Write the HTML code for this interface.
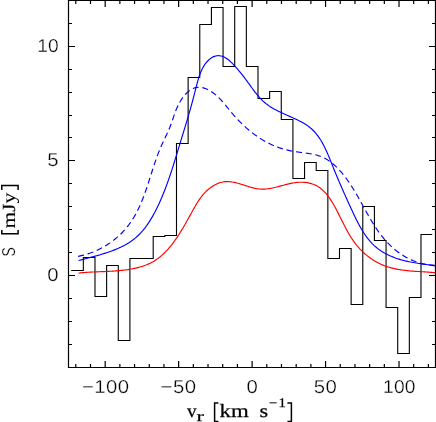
<!DOCTYPE html>
<html><head><meta charset="utf-8"><title>spectrum</title>
<style>
html,body{margin:0;padding:0;background:#fff;}
body{width:436px;height:422px;overflow:hidden;font-family:"Liberation Sans",sans-serif;}
svg{display:block;}
text{fill:#000;text-rendering:geometricPrecision;}
</style></head>
<body>
<svg width="436" height="422" viewBox="0 0 436 422">
<rect x="0" y="0" width="436" height="422" fill="#fff"/>
<path d="M71.20 270.5H83.34V257.5H94.99V296.5H106.63V265.5H118.27V340.5H129.92V258.5H141.56V258.5H153.20V236.5H164.84V235.5H176.49V143.5H188.13V77.5H199.77V24.5H211.42V7.5H223.06V66.5H234.70V6.5H246.35V66.5H257.99V98.5H269.63V91.5H281.27V119.5H292.92V178.5H304.56V162.5H316.20V170.5H327.85V258.5H339.49V248.5H351.13V304.5H362.78V206.5H374.42V240.5H386.06V307.5H397.70V353.5H409.35V297.5H420.99V234.5H432.23" fill="none" stroke="#000" stroke-width="1.1" stroke-linejoin="miter"/>
<path d="M78.07 256.33L79.14 256.13L80.21 255.90L81.26 255.67L82.32 255.42L83.37 255.16L84.07 254.97M87.52 253.97L88.54 253.64L89.56 253.29L90.58 252.94L91.58 252.57L92.59 252.18L93.25 251.92M96.70 250.45L97.67 250.01L98.63 249.55L99.59 249.08L100.54 248.59L101.48 248.10L101.95 247.85M105.19 246.01L106.10 245.45L107.00 244.89L107.89 244.32L108.77 243.73L109.65 243.14L110.23 242.73M113.21 240.54L114.05 239.89L114.87 239.23L115.69 238.56L116.50 237.88L117.29 237.19L117.82 236.73M120.52 234.22L121.27 233.48L122.01 232.74L122.74 231.98L123.46 231.22L124.17 230.44L124.75 229.79M127.12 227.00L127.78 226.18L128.42 225.35L129.05 224.52L129.67 223.68L130.28 222.83L130.68 222.26M132.70 219.22L133.25 218.33L133.79 217.44L134.33 216.54L134.85 215.63L135.37 214.72L135.79 213.96M137.49 210.70L137.96 209.76L138.42 208.81L138.87 207.86L139.32 206.91L139.76 205.94L140.04 205.30M141.51 201.89L141.91 200.91L142.31 199.92L142.70 198.93L143.09 197.93L143.47 196.94L143.73 196.27M145.02 192.75L145.37 191.74L145.73 190.73L146.08 189.71L146.43 188.69L146.78 187.67L146.95 187.16M148.13 183.58L148.47 182.56L148.80 181.53L149.13 180.50L149.46 179.48L149.79 178.45L149.95 177.93M151.09 174.34L151.42 173.31L151.75 172.28L152.08 171.26L152.40 170.23L152.73 169.21L152.90 168.70M154.07 165.13L154.40 164.12L154.74 163.11L155.09 162.10L155.43 161.09L155.78 160.08L155.96 159.58M157.21 156.09L157.58 155.10L157.95 154.11L158.33 153.13L158.71 152.15L159.10 151.17L159.43 150.37M160.84 147.00L161.26 146.05L161.68 145.10L162.11 144.16L162.55 143.22L162.98 142.28L163.35 141.50M164.89 138.23L165.34 137.30L165.78 136.36L166.22 135.42L166.66 134.48L167.09 133.54L167.45 132.75M168.93 129.41L169.34 128.44L169.75 127.47L170.14 126.48L170.53 125.49L170.90 124.50L171.15 123.83M172.41 120.26L172.76 119.23L173.11 118.20L173.47 117.16L173.82 116.12L174.18 115.08L174.37 114.56M175.64 111.09L176.05 110.06L176.47 109.02L176.91 107.99L177.36 106.97L177.84 105.95L178.00 105.61M179.65 102.45L180.21 101.47L180.79 100.51L181.39 99.57L182.00 98.65L182.64 97.75L182.96 97.30M185.23 94.52L185.94 93.75L186.67 93.01L187.42 92.31L188.17 91.64L188.95 91.01L189.74 90.43M192.88 88.59L193.73 88.23L194.59 87.92L195.47 87.67L196.35 87.47L197.25 87.33L198.16 87.25L198.61 87.23M202.34 87.62L203.28 87.85L204.22 88.13L205.17 88.46L206.11 88.83L207.06 89.25L207.99 89.70M211.23 91.56L212.13 92.16L213.02 92.79L213.90 93.44L214.76 94.12L215.61 94.81L216.02 95.16M218.70 97.62L219.47 98.39L220.22 99.16L220.97 99.95L221.71 100.75L222.43 101.56L222.79 101.97M225.25 104.87L225.95 105.71L226.63 106.55L227.32 107.40L228.00 108.24L228.69 109.09L229.03 109.51M231.32 112.31L232.02 113.14L232.72 113.96L233.43 114.78L234.14 115.59L234.85 116.40L235.33 116.94M237.76 119.58L238.50 120.35L239.25 121.12L240.00 121.89L240.75 122.65L241.51 123.40L242.02 123.89M244.73 126.45L245.52 127.17L246.31 127.87L247.11 128.57L247.91 129.27L248.72 129.95L249.26 130.40M252.13 132.71L252.97 133.35L253.80 133.99L254.65 134.61L255.50 135.23L256.35 135.84L256.92 136.24M259.97 138.27L260.85 138.83L261.73 139.38L262.63 139.92L263.52 140.45L264.43 140.97L265.18 141.40M268.40 143.11L269.33 143.58L270.27 144.03L271.21 144.48L272.16 144.91L273.11 145.34L273.91 145.68M277.31 147.04L278.29 147.41L279.28 147.76L280.27 148.10L281.27 148.42L282.28 148.74L282.95 148.94M286.53 149.93L287.56 150.18L288.60 150.42L289.65 150.64L290.70 150.86L291.75 151.06L292.46 151.19M296.03 151.75L297.11 151.91L298.18 152.05L299.27 152.20L300.35 152.34L301.43 152.48L301.97 152.55M305.75 153.05L306.82 153.20L307.89 153.36L308.96 153.53L310.02 153.70L311.07 153.89L311.60 153.99M315.23 154.78L316.25 155.04L317.26 155.32L318.26 155.62L319.25 155.94L320.23 156.29L320.87 156.53M324.32 158.07L325.23 158.55L326.13 159.06L327.02 159.58L327.90 160.13L328.76 160.69L329.48 161.18M332.38 163.38L333.19 164.04L333.98 164.73L334.76 165.43L335.54 166.14L336.30 166.87L336.80 167.36M339.38 170.03L340.09 170.82L340.79 171.62L341.49 172.43L342.18 173.24L342.85 174.06L343.30 174.62M345.59 177.56L346.22 178.41L346.85 179.27L347.47 180.13L348.08 181.01L348.69 181.88L349.09 182.47M351.16 185.58L351.74 186.48L352.31 187.38L352.87 188.28L353.44 189.19L354.00 190.11L354.27 190.56M356.19 193.79L356.73 194.71L357.26 195.64L357.80 196.57L358.33 197.50L358.86 198.44L359.21 199.06M360.95 202.18L361.47 203.12L361.99 204.06L362.51 205.00L363.03 205.94L363.55 206.88L363.90 207.50M365.63 210.63L366.15 211.56L366.67 212.49L367.20 213.43L367.72 214.36L368.25 215.29L368.61 215.90M370.48 219.13L371.02 220.04L371.57 220.96L372.12 221.87L372.67 222.77L373.23 223.67L373.60 224.27M375.60 227.39L376.18 228.27L376.77 229.14L377.37 230.01L377.97 230.87L378.57 231.73L378.98 232.30M381.18 235.25L381.82 236.08L382.47 236.90L383.13 237.71L383.80 238.52L384.47 239.32L385.04 239.98M387.51 242.69L388.23 243.45L388.97 244.20L389.72 244.94L390.47 245.67L391.24 246.40L391.76 246.87M394.54 249.30L395.36 249.97L396.18 250.63L397.02 251.28L397.87 251.92L398.72 252.55L399.29 252.96M402.37 255.03L403.27 255.59L404.18 256.14L405.09 256.68L406.01 257.20L406.94 257.71L407.57 258.04M410.90 259.68L411.87 260.11L412.84 260.53L413.82 260.93L414.81 261.31L415.81 261.68L416.47 261.92M420.02 263.04L421.05 263.33L422.08 263.59L423.12 263.84L424.16 264.06L425.21 264.27L425.74 264.37M429.46 264.92L430.53 265.03L431.61 265.12L432.69 265.19L433.78 265.24L434.87 265.27" fill="none" stroke="#0000ff" stroke-width="1.15" stroke-linejoin="round"/>
<path d="M78.61 260.57L79.92 260.21L81.25 259.85L82.59 259.49L83.95 259.13L85.32 258.77L86.70 258.41L88.09 258.04L89.50 257.67L90.91 257.30L92.32 256.92L93.75 256.53L95.18 256.14L96.61 255.74L98.05 255.34L99.49 254.93L100.93 254.50L102.37 254.07L103.81 253.63L105.25 253.17L106.69 252.71L108.12 252.23L109.55 251.73L110.97 251.23L112.38 250.70L113.79 250.16L115.19 249.61L116.58 249.04L117.95 248.45L119.32 247.84L120.67 247.21L122.00 246.56L123.32 245.90L124.63 245.21L125.92 244.49L127.19 243.76L128.44 243.00L129.66 242.21L130.87 241.41L132.06 240.57L133.22 239.71L134.36 238.82L135.47 237.90L136.55 236.96L137.62 235.99L138.66 235.00L139.67 233.98L140.67 232.94L141.64 231.87L142.59 230.79L143.52 229.68L144.43 228.55L145.32 227.41L146.19 226.24L147.04 225.06L147.88 223.86L148.70 222.65L149.50 221.42L150.28 220.18L151.05 218.92L151.80 217.66L152.54 216.38L153.27 215.09L153.98 213.79L154.68 212.48L155.37 211.17L156.04 209.84L156.71 208.51L157.36 207.18L158.00 205.84L158.64 204.50L159.26 203.15L159.87 201.79L160.48 200.44L161.07 199.07L161.66 197.71L162.24 196.34L162.81 194.97L163.37 193.59L163.92 192.21L164.47 190.83L165.01 189.44L165.54 188.05L166.06 186.66L166.58 185.26L167.09 183.87L167.60 182.47L168.09 181.07L168.59 179.67L169.07 178.26L169.56 176.86L170.03 175.45L170.50 174.04L170.97 172.64L171.43 171.23L171.89 169.82L172.35 168.41L172.80 167.00L173.25 165.59L173.69 164.18L174.13 162.77L174.57 161.36L175.00 159.95L175.44 158.54L175.87 157.13L176.30 155.73L176.73 154.32L177.15 152.92L177.58 151.52L178.00 150.12L178.42 148.72L178.85 147.33L179.27 145.93L179.69 144.54L180.12 143.16L180.54 141.77L180.96 140.39L181.38 139.00L181.81 137.62L182.23 136.24L182.65 134.86L183.07 133.48L183.49 132.10L183.91 130.72L184.33 129.34L184.75 127.96L185.17 126.58L185.59 125.20L186.00 123.82L186.42 122.43L186.83 121.04L187.25 119.65L187.66 118.26L188.07 116.86L188.48 115.46L188.89 114.06L189.30 112.65L189.70 111.24L190.11 109.83L190.51 108.41L190.91 106.98L191.31 105.55L191.71 104.12L192.10 102.67L192.50 101.23L192.89 99.77L193.28 98.31L193.67 96.84L194.06 95.37L194.44 93.89L194.82 92.40L195.20 90.90L195.58 89.39L195.96 87.88L196.34 86.37L196.73 84.86L197.13 83.36L197.54 81.86L197.96 80.37L198.40 78.89L198.86 77.42L199.34 75.98L199.84 74.55L200.37 73.15L200.93 71.77L201.53 70.42L202.15 69.11L202.81 67.82L203.52 66.58L204.26 65.37L205.05 64.21L205.88 63.09L206.77 62.01L207.70 60.99L208.70 60.02L209.74 59.11L210.84 58.27L212.00 57.52L213.19 56.87L214.42 56.35L215.69 55.96L216.99 55.73L218.31 55.65L219.64 55.73L220.98 55.95L222.31 56.31L223.62 56.80L224.91 57.43L226.18 58.18L227.42 59.03L228.64 59.98L229.83 60.99L231.00 62.07L232.14 63.18L233.25 64.33L234.33 65.50L235.39 66.67L236.42 67.83L237.42 68.98L238.40 70.12L239.35 71.27L240.29 72.41L241.21 73.54L242.11 74.68L243.00 75.82L243.88 76.96L244.75 78.11L245.62 79.26L246.47 80.41L247.33 81.58L248.18 82.76L249.04 83.94L249.90 85.13L250.76 86.33L251.63 87.52L252.51 88.72L253.39 89.91L254.29 91.10L255.20 92.28L256.12 93.44L257.05 94.60L258.00 95.73L258.97 96.85L259.95 97.94L260.96 99.01L261.99 100.05L263.04 101.07L264.12 102.05L265.22 102.99L266.35 103.90L267.51 104.77L268.69 105.62L269.89 106.43L271.11 107.21L272.35 107.97L273.61 108.71L274.89 109.42L276.18 110.11L277.48 110.78L278.80 111.44L280.13 112.08L281.46 112.72L282.81 113.34L284.16 113.95L285.52 114.56L286.88 115.16L288.24 115.76L289.61 116.36L290.97 116.96L292.34 117.56L293.69 118.17L295.05 118.79L296.39 119.42L297.73 120.06L299.05 120.72L300.36 121.39L301.65 122.08L302.93 122.79L304.18 123.52L305.42 124.28L306.62 125.07L307.80 125.88L308.96 126.73L310.08 127.61L311.17 128.53L312.22 129.49L313.24 130.48L314.23 131.50L315.19 132.56L316.12 133.66L317.02 134.78L317.89 135.93L318.73 137.11L319.55 138.32L320.35 139.55L321.12 140.80L321.87 142.07L322.60 143.37L323.31 144.68L324.00 146.01L324.68 147.35L325.33 148.71L325.98 150.08L326.61 151.46L327.23 152.84L327.84 154.24L328.44 155.64L329.03 157.05L329.61 158.46L330.18 159.87L330.75 161.28L331.32 162.69L331.89 164.10L332.45 165.50L333.01 166.89L333.57 168.28L334.13 169.66L334.70 171.04L335.26 172.41L335.83 173.77L336.39 175.13L336.96 176.48L337.52 177.83L338.09 179.18L338.66 180.52L339.23 181.86L339.80 183.19L340.37 184.53L340.95 185.85L341.53 187.18L342.10 188.51L342.68 189.83L343.27 191.15L343.85 192.48L344.44 193.80L345.03 195.12L345.62 196.44L346.21 197.76L346.81 199.08L347.41 200.41L348.01 201.73L348.61 203.06L349.22 204.39L349.83 205.72L350.44 207.05L351.06 208.39L351.68 209.73L352.31 211.08L352.94 212.42L353.57 213.78L354.21 215.13L354.85 216.48L355.50 217.83L356.16 219.18L356.83 220.53L357.51 221.87L358.20 223.20L358.90 224.53L359.62 225.85L360.35 227.16L361.09 228.46L361.84 229.74L362.62 231.02L363.41 232.28L364.21 233.52L365.04 234.75L365.88 235.96L366.75 237.15L367.64 238.32L368.54 239.47L369.48 240.59L370.43 241.69L371.41 242.77L372.41 243.82L373.45 244.84L374.50 245.83L375.59 246.80L376.71 247.73L377.85 248.63L379.02 249.50L380.21 250.34L381.43 251.14L382.68 251.92L383.94 252.68L385.23 253.40L386.53 254.09L387.85 254.76L389.19 255.40L390.54 256.01L391.91 256.59L393.29 257.15L394.68 257.69L396.08 258.20L397.49 258.68L398.91 259.14L400.33 259.58L401.76 259.99L403.19 260.38L404.63 260.74L406.06 261.09L407.50 261.41L408.94 261.72L410.38 262.01L411.82 262.28L413.27 262.54L414.71 262.79L416.16 263.02L417.60 263.25L419.05 263.47L420.50 263.68L421.96 263.89L423.41 264.10L424.87 264.31L426.32 264.52L427.78 264.73L429.24 264.94L430.70 265.16L432.17 265.39L433.63 265.63L435.10 265.87" fill="none" stroke="#0000ff" stroke-width="1.15" stroke-linejoin="round"/>
<path d="M78.59 273.06L79.58 272.95L80.58 272.85L81.59 272.75L82.61 272.66L83.63 272.57L84.67 272.49L85.71 272.41L86.76 272.34L87.82 272.28L88.88 272.22L89.96 272.16L91.03 272.10L92.12 272.05L93.21 272.00L94.31 271.95L95.41 271.91L96.51 271.86L97.62 271.82L98.74 271.78L99.86 271.73L100.98 271.69L102.11 271.65L103.24 271.60L104.37 271.56L105.50 271.51L106.64 271.46L107.78 271.41L108.91 271.35L110.05 271.29L111.20 271.23L112.34 271.16L113.48 271.09L114.62 271.01L115.76 270.93L116.90 270.85L118.04 270.75L119.18 270.65L120.31 270.55L121.45 270.43L122.58 270.31L123.71 270.18L124.83 270.04L125.95 269.90L127.07 269.74L128.19 269.58L129.30 269.40L130.40 269.21L131.50 269.02L132.60 268.81L133.69 268.59L134.77 268.36L135.85 268.12L136.92 267.86L137.98 267.59L139.04 267.31L140.09 267.01L141.13 266.70L142.16 266.38L143.19 266.04L144.20 265.68L145.21 265.31L146.21 264.93L147.19 264.52L148.17 264.10L149.14 263.66L150.09 263.21L151.04 262.73L151.97 262.24L152.90 261.73L153.81 261.20L154.70 260.65L155.59 260.08L156.47 259.49L157.33 258.89L158.18 258.27L159.03 257.63L159.86 256.98L160.68 256.30L161.49 255.62L162.29 254.91L163.08 254.20L163.86 253.47L164.63 252.72L165.39 251.96L166.14 251.19L166.89 250.40L167.62 249.60L168.35 248.79L169.06 247.97L169.77 247.13L170.47 246.29L171.17 245.43L171.85 244.57L172.53 243.69L173.20 242.81L173.87 241.91L174.52 241.01L175.17 240.10L175.82 239.18L176.45 238.26L177.08 237.32L177.71 236.38L178.33 235.44L178.94 234.49L179.55 233.53L180.15 232.57L180.75 231.60L181.34 230.63L181.93 229.66L182.52 228.68L183.10 227.70L183.67 226.72L184.25 225.74L184.81 224.75L185.38 223.76L185.94 222.78L186.50 221.79L187.06 220.80L187.61 219.81L188.16 218.82L188.71 217.83L189.25 216.85L189.80 215.87L190.34 214.88L190.88 213.91L191.42 212.93L191.96 211.96L192.50 210.99L193.03 210.03L193.57 209.07L194.10 208.11L194.64 207.17L195.18 206.22L195.73 205.29L196.28 204.36L196.83 203.44L197.39 202.52L197.97 201.62L198.55 200.72L199.14 199.83L199.75 198.95L200.37 198.09L201.00 197.23L201.65 196.38L202.32 195.54L203.01 194.72L203.71 193.91L204.44 193.11L205.19 192.32L205.96 191.54L206.76 190.79L207.58 190.05L208.41 189.32L209.27 188.62L210.14 187.94L211.03 187.29L211.94 186.66L212.87 186.06L213.81 185.49L214.76 184.95L215.73 184.45L216.71 183.97L217.70 183.54L218.70 183.14L219.71 182.79L220.73 182.47L221.76 182.20L222.79 181.98L223.83 181.80L224.88 181.67L225.93 181.59L226.99 181.56L228.05 181.57L229.11 181.62L230.18 181.72L231.25 181.85L232.32 182.01L233.40 182.21L234.48 182.43L235.56 182.68L236.65 182.95L237.73 183.24L238.82 183.55L239.92 183.87L241.01 184.20L242.10 184.55L243.20 184.90L244.30 185.25L245.39 185.60L246.49 185.96L247.59 186.30L248.69 186.64L249.79 186.97L250.89 187.29L251.99 187.59L253.09 187.88L254.19 188.14L255.28 188.38L256.38 188.59L257.47 188.77L258.56 188.92L259.66 189.04L260.74 189.12L261.83 189.16L262.92 189.16L264.00 189.14L265.08 189.08L266.16 189.00L267.24 188.89L268.32 188.75L269.40 188.59L270.47 188.41L271.55 188.21L272.62 187.99L273.69 187.76L274.77 187.51L275.84 187.25L276.91 186.98L277.98 186.70L279.06 186.41L280.13 186.12L281.20 185.83L282.27 185.54L283.35 185.24L284.42 184.95L285.49 184.67L286.57 184.39L287.64 184.12L288.72 183.86L289.80 183.61L290.88 183.38L291.96 183.16L293.04 182.96L294.12 182.78L295.21 182.62L296.29 182.49L297.38 182.38L298.47 182.29L299.56 182.24L300.66 182.21L301.75 182.21L302.84 182.25L303.92 182.31L305.00 182.40L306.08 182.53L307.15 182.68L308.21 182.87L309.26 183.09L310.30 183.35L311.32 183.63L312.34 183.95L313.34 184.31L314.33 184.70L315.29 185.12L316.25 185.59L317.18 186.08L318.09 186.62L318.98 187.19L319.85 187.79L320.70 188.43L321.54 189.11L322.35 189.81L323.15 190.54L323.92 191.30L324.69 192.08L325.43 192.89L326.16 193.73L326.87 194.58L327.57 195.46L328.25 196.36L328.92 197.27L329.58 198.20L330.22 199.14L330.85 200.10L331.47 201.07L332.08 202.05L332.68 203.04L333.26 204.04L333.84 205.04L334.41 206.05L334.97 207.06L335.52 208.07L336.06 209.08L336.59 210.09L337.12 211.11L337.64 212.12L338.16 213.13L338.67 214.13L339.18 215.14L339.68 216.14L340.19 217.15L340.68 218.15L341.18 219.14L341.67 220.14L342.17 221.13L342.66 222.12L343.16 223.10L343.65 224.08L344.15 225.06L344.65 226.04L345.15 227.01L345.65 227.97L346.16 228.93L346.68 229.89L347.19 230.84L347.72 231.79L348.25 232.73L348.78 233.67L349.33 234.60L349.88 235.52L350.44 236.44L351.01 237.35L351.59 238.26L352.18 239.16L352.78 240.05L353.39 240.94L354.02 241.81L354.65 242.69L355.30 243.55L355.97 244.40L356.64 245.25L357.34 246.09L358.05 246.92L358.77 247.74L359.51 248.55L360.26 249.36L361.03 250.15L361.82 250.93L362.61 251.70L363.42 252.46L364.25 253.21L365.08 253.95L365.93 254.67L366.79 255.38L367.66 256.08L368.55 256.77L369.44 257.44L370.35 258.09L371.26 258.73L372.19 259.36L373.13 259.97L374.07 260.56L375.02 261.14L375.99 261.70L376.96 262.24L377.94 262.77L378.93 263.28L379.92 263.76L380.92 264.23L381.93 264.68L382.94 265.11L383.96 265.52L384.99 265.92L386.02 266.29L387.06 266.64L388.10 266.98L389.15 267.30L390.20 267.60L391.26 267.89L392.32 268.16L393.39 268.42L394.46 268.66L395.53 268.89L396.61 269.11L397.69 269.31L398.77 269.50L399.86 269.68L400.95 269.85L402.04 270.01L403.14 270.16L404.24 270.30L405.34 270.43L406.44 270.55L407.54 270.67L408.64 270.78L409.75 270.88L410.86 270.98L411.96 271.07L413.07 271.15L414.18 271.23L415.29 271.31L416.40 271.39L417.51 271.46L418.61 271.53L419.72 271.60L420.83 271.67L421.93 271.73L423.04 271.80L424.14 271.87L425.24 271.94L426.34 272.01L427.44 272.09L428.54 272.16L429.63 272.25L430.72 272.33L431.81 272.42L432.89 272.52L433.97 272.62L435.05 272.72" fill="none" stroke="#ff0000" stroke-width="1.15" stroke-linejoin="round"/>
<path d="M68.5 0.5H435.5V367.5H68.5Z" fill="none" stroke="#000" stroke-width="1.2"/>
<path d="M75.80 367.5v-3.5M75.80 0.5v3.5M90.49 367.5v-3.5M90.49 0.5v3.5M105.18 367.5v-6.6M105.18 0.5v6.6M119.87 367.5v-3.5M119.87 0.5v3.5M134.56 367.5v-3.5M134.56 0.5v3.5M149.26 367.5v-3.5M149.26 0.5v3.5M163.95 367.5v-3.5M163.95 0.5v3.5M178.64 367.5v-6.6M178.64 0.5v6.6M193.33 367.5v-3.5M193.33 0.5v3.5M208.02 367.5v-3.5M208.02 0.5v3.5M222.72 367.5v-3.5M222.72 0.5v3.5M237.41 367.5v-3.5M237.41 0.5v3.5M252.10 367.5v-6.6M252.10 0.5v6.6M266.79 367.5v-3.5M266.79 0.5v3.5M281.48 367.5v-3.5M281.48 0.5v3.5M296.18 367.5v-3.5M296.18 0.5v3.5M310.87 367.5v-3.5M310.87 0.5v3.5M325.56 367.5v-6.6M325.56 0.5v6.6M340.25 367.5v-3.5M340.25 0.5v3.5M354.94 367.5v-3.5M354.94 0.5v3.5M369.64 367.5v-3.5M369.64 0.5v3.5M384.33 367.5v-3.5M384.33 0.5v3.5M399.02 367.5v-6.6M399.02 0.5v6.6M413.71 367.5v-3.5M413.71 0.5v3.5M428.40 367.5v-3.5M428.40 0.5v3.5M68.5 344.50h3.5M435.5 344.50h-3.5M68.5 321.50h3.5M435.5 321.50h-3.5M68.5 298.50h3.5M435.5 298.50h-3.5M68.5 275.50h6.5M435.5 275.50h-6.5M68.5 252.50h3.5M435.5 252.50h-3.5M68.5 229.50h3.5M435.5 229.50h-3.5M68.5 206.50h3.5M435.5 206.50h-3.5M68.5 183.50h3.5M435.5 183.50h-3.5M68.5 160.50h6.5M435.5 160.50h-6.5M68.5 137.50h3.5M435.5 137.50h-3.5M68.5 115.50h3.5M435.5 115.50h-3.5M68.5 92.50h3.5M435.5 92.50h-3.5M68.5 69.50h3.5M435.5 69.50h-3.5M68.5 46.50h6.5M435.5 46.50h-6.5M68.5 23.50h3.5M435.5 23.50h-3.5" fill="none" stroke="#000" stroke-width="1.2"/>
<defs><filter id="g" x="0" y="0" width="436" height="422" filterUnits="userSpaceOnUse" color-interpolation-filters="sRGB"><feColorMatrix type="saturate" values="0"/></filter></defs>
<g filter="url(#g)">
<text transform="translate(105.75 393.1) scale(1.09 1)" text-anchor="middle" letter-spacing="0.4" font-family='"Liberation Sans", sans-serif' font-size="18.7" stroke="#fff" stroke-width="0.3">−100</text>
<text transform="translate(178.50 393.1) scale(1.09 1)" text-anchor="middle" letter-spacing="0.4" font-family='"Liberation Sans", sans-serif' font-size="18.7" stroke="#fff" stroke-width="0.3">−50</text>
<text transform="translate(252.35 393.1) scale(1.09 1)" text-anchor="middle" letter-spacing="0.4" font-family='"Liberation Sans", sans-serif' font-size="18.7" stroke="#fff" stroke-width="0.3">0</text>
<text transform="translate(325.55 393.1) scale(1.09 1)" text-anchor="middle" letter-spacing="0.4" font-family='"Liberation Sans", sans-serif' font-size="18.7" stroke="#fff" stroke-width="0.3">50</text>
<text transform="translate(399.40 393.1) scale(1.03 1)" text-anchor="middle" letter-spacing="0.2" font-family='"Liberation Sans", sans-serif' font-size="18.7" stroke="#fff" stroke-width="0.3">100</text>
<text transform="translate(59.0 51.93) scale(1.03 1)" text-anchor="end" letter-spacing="0.2" font-family='"Liberation Sans", sans-serif' font-size="18.7" stroke="#fff" stroke-width="0.3">10</text>
<text transform="translate(59.0 166.49) scale(1.09 1)" text-anchor="end" letter-spacing="0.4" font-family='"Liberation Sans", sans-serif' font-size="18.7" stroke="#fff" stroke-width="0.3">5</text>
<text transform="translate(59.0 281.05) scale(1.09 1)" text-anchor="end" letter-spacing="0.4" font-family='"Liberation Sans", sans-serif' font-size="18.7" stroke="#fff" stroke-width="0.3">0</text>
<text x="186.9" y="416.5" font-family='"Liberation Serif", serif' font-size="18.5" textLength="9.6" lengthAdjust="spacingAndGlyphs" stroke="#000" stroke-width="0.25">v</text>
<text x="196.4" y="421.4" font-family='"Liberation Serif", serif' font-size="14.5" textLength="7.4" lengthAdjust="spacingAndGlyphs" stroke="#000" stroke-width="0.25">r</text>
<text x="219.6" y="416.5" font-family='"Liberation Serif", serif' font-size="18.8" textLength="29.2" lengthAdjust="spacingAndGlyphs" stroke="#000" stroke-width="0.25">km</text>
<text x="259.6" y="416.5" font-family='"Liberation Serif", serif' font-size="18.5" textLength="8.6" lengthAdjust="spacingAndGlyphs" stroke="#000" stroke-width="0.25">s</text>
<text x="269.0" y="406.7" font-family='"Liberation Serif", serif' font-size="12.7" textLength="8.2" lengthAdjust="spacingAndGlyphs" stroke="#000" stroke-width="0.25">−</text>
<text x="278.4" y="406.8" font-family='"Liberation Serif", serif' font-size="13.2" textLength="7.4" lengthAdjust="spacingAndGlyphs" stroke="#000" stroke-width="0.25">1</text>
<path d="M218.4 402.9H214.6V421.4H218.4" fill="none" stroke="#000" stroke-width="1.5" stroke-linejoin="miter"/>
<path d="M287.4 402.9H291.4V421.4H287.4" fill="none" stroke="#000" stroke-width="1.5" stroke-linejoin="miter"/>
<g transform="translate(14.9 256.6) rotate(-90)"><text x="0" y="0" font-family='"Liberation Sans", sans-serif' font-size="18.7" textLength="9.3" lengthAdjust="spacingAndGlyphs" stroke="#fff" stroke-width="0.3">S</text><text x="28.0" y="0" font-family='"Liberation Serif", serif' font-size="18.5" textLength="35.8" lengthAdjust="spacingAndGlyphs" stroke="#000" stroke-width="0.12">mJy</text><path d="M26.7 -13.1H22.8V3.2H26.7" fill="none" stroke="#000" stroke-width="1.5" stroke-linejoin="miter"/><path d="M66.5 -13.1H71.1V3.2H66.5" fill="none" stroke="#000" stroke-width="1.5" stroke-linejoin="miter"/></g>
</g>
</svg>
</body></html>
